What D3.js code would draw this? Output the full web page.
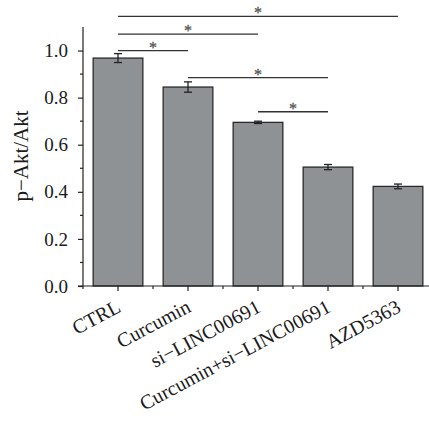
<!DOCTYPE html>
<html><head><meta charset="utf-8">
<script src="https://cdn.jsdelivr.net/npm/d3@7"></script>
<style>body{margin:0;background:#fff}svg{display:block}</style>
</head><body>
<script>
const categories = ["CTRL","Curcumin","si\u2212LINC00691","Curcumin+si\u2212LINC00691","AZD5363"];
const values = [0.968, 0.845, 0.695, 0.505, 0.423];
const errors = [0.019, 0.022, 0.005, 0.011, 0.010];
const yTicks = [0, 0.2, 0.4, 0.6, 0.8, 1.0];
const sigPairs = [[0,4],[0,2],[0,1],[1,3],[2,3]];
const sigLevels = [1.145, 1.07, 1.0, 0.885, 0.74];

const W=429,H=423;
const svg=d3.select("body").append("svg").attr("width",W).attr("height",H);
const x=d3.scaleBand().domain(categories).range([83,433]).paddingInner(0.29).paddingOuter(0.145);
const y=d3.scaleLinear().domain([0,1.1]).range([286,27]);
const font="'Liberation Serif', 'DejaVu Serif', serif";

// bars
svg.selectAll("rect.bar").data(categories).join("rect")
  .attr("x",d=>x(d)).attr("y",(d,i)=>y(values[i]))
  .attr("width",x.bandwidth()).attr("height",(d,i)=>y(0)-y(values[i]))
  .attr("fill","#8e9295").attr("stroke","#2a2a2a").attr("stroke-width",1.3);

// error bars
const eb=svg.append("g").attr("stroke","#222").attr("stroke-width",1.3);
categories.forEach((c,i)=>{
  const cx=x(c)+x.bandwidth()/2;
  eb.append("line").attr("x1",cx).attr("x2",cx).attr("y1",y(values[i]+errors[i])).attr("y2",y(values[i]-errors[i]));
  [values[i]+errors[i],values[i]-errors[i]].forEach(v=>eb.append("line").attr("x1",cx-4).attr("x2",cx+4).attr("y1",y(v)).attr("y2",y(v)));
});

// y axis
const ya=svg.append("g").attr("transform","translate(83,0)")
  .call(d3.axisLeft(y).tickValues(yTicks).tickFormat(d3.format(".1f")).tickSize(5).tickPadding(10));
ya.append("g").selectAll("line").data(d3.range(0.1,1.1,0.2)).join("line")
  .attr("x1",-3).attr("x2",0).attr("y1",d=>y(d)).attr("y2",d=>y(d)).attr("stroke","#000");
ya.select(".domain").attr("d",`M0,${y(1.1)}V${y(0)}`);
ya.selectAll("text").attr("font-family",font).attr("font-size",19).attr("fill","#1a1a1a");
ya.selectAll("line,path").attr("stroke","#222").attr("stroke-width",1.2);

// x axis
const xa=svg.append("g").attr("transform","translate(0,286)")
  .call(d3.axisBottom(x).tickSize(5).tickFormat(""));
xa.select(".domain").attr("d","M78,0H429");
xa.selectAll("line,path").attr("stroke","#222").attr("stroke-width",1.2);
const step=x.step();
xa.append("g").selectAll("line").data(d3.range(0,5)).join("line")
  .attr("x1",i=>83+i*step).attr("x2",i=>83+i*step).attr("y1",0).attr("y2",3).attr("stroke","#222").attr("stroke-width",1.2);

// x labels
svg.append("g").selectAll("text").data(categories).join("text")
  .attr("transform",d=>`translate(${x(d)+x.bandwidth()/2+4},${311}) rotate(-28)`)
  .attr("text-anchor","end")
  .attr("font-family",font).attr("font-size",20).attr("fill","#1a1a1a").text(d=>d);

// y label
svg.append("text").attr("transform",`translate(28,156) rotate(-90)`).attr("text-anchor","middle")
  .attr("font-family",font).attr("font-size",21).attr("fill","#1a1a1a").text("p\u2212Akt/Akt");

// significance
const sg=svg.append("g");
sigPairs.forEach((p,k)=>{
  const x1=x(categories[p[0]])+x.bandwidth()/2, x2=x(categories[p[1]])+x.bandwidth()/2, yy=y(sigLevels[k]);
  sg.append("line").attr("x1",x1).attr("x2",x2).attr("y1",yy).attr("y2",yy).attr("stroke","#333").attr("stroke-width",1.3);
  sg.append("text").attr("x",(x1+x2)/2).attr("y",yy+2).attr("text-anchor","middle")
    .attr("font-family",font).attr("font-size",16).attr("fill","#555")
    .attr("stroke","#555").attr("stroke-width",0.3).text("*");
});
</script>
</body></html>
